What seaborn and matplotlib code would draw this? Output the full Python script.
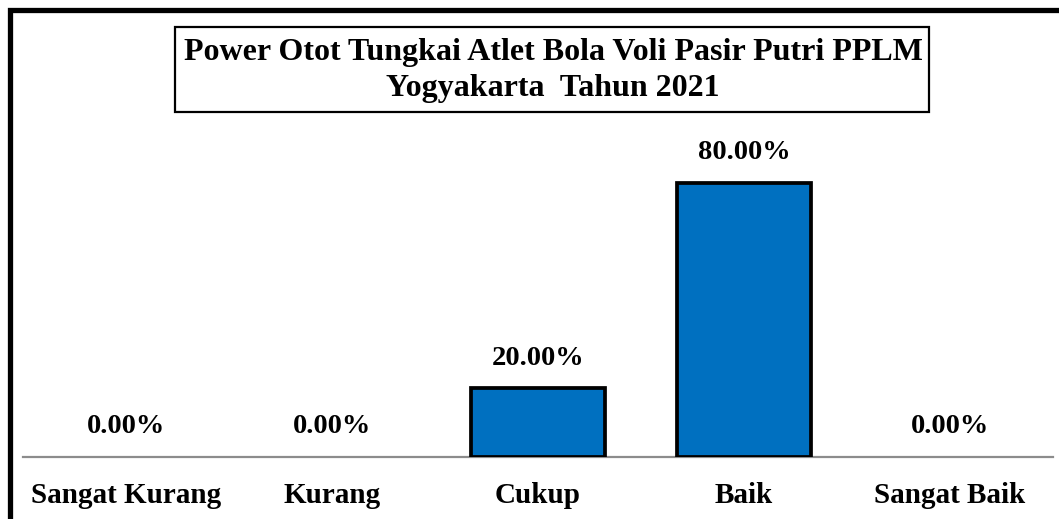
import matplotlib
matplotlib.use("Agg")
import matplotlib.pyplot as plt
import seaborn as sns
import pandas as pd
from matplotlib.patches import Rectangle

# data
categories = ['Sangat Kurang', 'Kurang', 'Cukup', 'Baik', 'Sangat Baik']
values = [0.0, 0.0, 20.0, 80.0, 0.0]
title_lines = ['Power Otot Tungkai Atlet Bola Voli Pasir Putri PPLM',
               'Yogyakarta  Tahun 2021']

sns.set_style('white')
plt.rcParams['font.family'] = ['Liberation Serif', 'DejaVu Serif']
plt.rcParams['font.weight'] = 'bold'
plt.rcParams['text.color'] = 'black'
plt.rcParams['xtick.color'] = 'black'

df = pd.DataFrame({'kategori': categories, 'persen': values})

fig = plt.figure(figsize=(10.59, 5.19), dpi=100)
ax = fig.add_axes([23 / 1059, 1 - 457 / 519, 1030 / 1059, 343 / 519])

sns.barplot(data=df, x='kategori', y='persen', order=categories,
            color='#0070C0', saturation=1, width=0.655,
            edgecolor='black', linewidth=2.7, ax=ax)
# empty bars should not leave an outline on the axis
for p in ax.patches:
    if p.get_height() == 0:
        p.set_linewidth(0)

for i, v in enumerate(values):
    ax.annotate('%.2f%%' % v, xy=(i, v), xytext=(0, 17),
                textcoords='offset points', ha='center', va='baseline',
                fontsize=20.5, fontweight='bold', color='black')

ax.set_xlim(-0.5, 4.5)
ax.set_ylim(0, 100)
ax.set_xlabel('')
ax.set_ylabel('')
ax.set_yticks([])
ax.tick_params(axis='x', length=0, pad=18, labelsize=21)
for lbl in ax.get_xticklabels():
    lbl.set_fontweight('bold')
for s in ['top', 'left', 'right']:
    ax.spines[s].set_visible(False)
ax.spines['bottom'].set_color('#8C8C8C')
ax.spines['bottom'].set_linewidth(1.6)
ax.spines['bottom'].set_zorder(0)

# title box
fig.patches.append(Rectangle((175 / 1059, 1 - 112 / 519), 754 / 1059, 85 / 519,
                             transform=fig.transFigure, fill=False,
                             edgecolor='black', linewidth=1.6))
fig.text(553 / 1059, 1 - 60 / 519, title_lines[0], ha='center', va='baseline',
         fontsize=23, fontweight='bold')
fig.text(553 / 1059, 1 - 96 / 519, title_lines[1], ha='center', va='baseline',
         fontsize=23, fontweight='bold')

# outer chart frame (cut off at right and bottom)
fig.patches.append(Rectangle((9.5 / 1059, -0.2), 1.2, 1.2 - 9.5 / 519,
                             transform=fig.transFigure, fill=False,
                             edgecolor='black', linewidth=3.8))

fig.savefig('out.png', dpi=100)
